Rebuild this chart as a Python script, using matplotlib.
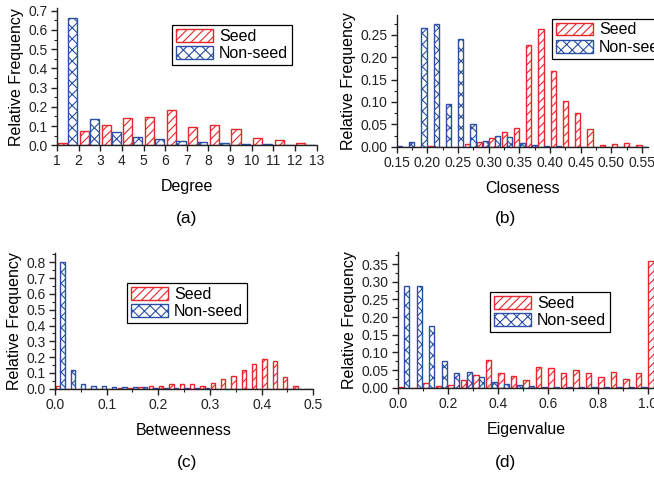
#!/usr/bin/env python3
import numpy as np
import matplotlib
matplotlib.use("Agg")
import matplotlib.pyplot as plt
from matplotlib.ticker import MultipleLocator, FormatStrFormatter

plt.rcParams["font.family"] = ["Liberation Sans", "DejaVu Sans"]
plt.rcParams["hatch.linewidth"] = 0.8

SEED_COLOR = "#e8262b"
NONSEED_COLOR = "#2b4fa6"

# (a) Degree: bins [k, k+1], k = 1..12
degree_bins = list(range(1, 13))
degree_seed = [0.014, 0.073, 0.104, 0.140, 0.146, 0.185, 0.094, 0.106, 0.083, 0.040, 0.026, 0.010]
degree_nonseed = [0.660, 0.135, 0.068, 0.045, 0.031, 0.021, 0.016, 0.012, 0.008, 0.005, 0.003, 0.002]

# (b) Closeness: bins of width 0.02, left edges 0.14 .. 0.54
closeness_bins = [0.14, 0.16, 0.18, 0.20, 0.22, 0.24, 0.26, 0.28, 0.30, 0.32, 0.34,
                  0.36, 0.38, 0.40, 0.42, 0.44, 0.46, 0.48, 0.50, 0.52, 0.54]
closeness_seed = [0.0, 0.0, 0.0, 0.002, 0.0, 0.0, 0.006, 0.010, 0.019, 0.032, 0.041,
                  0.228, 0.263, 0.170, 0.103, 0.075, 0.039, 0.003, 0.006, 0.0075, 0.003]
closeness_nonseed = [0.001, 0.010, 0.264, 0.273, 0.095, 0.240, 0.051, 0.012, 0.023, 0.021, 0.0075,
                     0.003, 0.001, 0.0005, 0.0, 0.0, 0.0, 0.0, 0.0, 0.0, 0.0]

# (c) Betweenness: bins of width 0.02, left edges 0.00 .. 0.48
betweenness_bins = [round(0.02 * i, 2) for i in range(25)]
betweenness_seed = [0.015, 0.0, 0.0, 0.0, 0.0, 0.0, 0.004, 0.006, 0.008, 0.019, 0.015, 0.027, 0.027,
                    0.027, 0.019, 0.036, 0.061, 0.080, 0.118, 0.154, 0.188, 0.175, 0.072, 0.015, 0.0]
betweenness_nonseed = [0.800, 0.118, 0.027, 0.017, 0.015, 0.010, 0.010, 0.008, 0.008, 0.006, 0.005, 0.004,
                       0.003, 0.002, 0.002, 0.001, 0.001, 0.001, 0.0, 0.0, 0.0, 0.0, 0.0, 0.0, 0.0]

# (d) Eigenvalue: bins of width 0.05, left edges 0.00 .. 1.00
eigen_bins = [round(0.05 * i, 2) for i in range(21)]
eigen_seed = [0.002, 0.0, 0.012, 0.005, 0.007, 0.022, 0.036, 0.078, 0.041, 0.033, 0.022,
              0.059, 0.056, 0.042, 0.050, 0.041, 0.030, 0.044, 0.025, 0.041, 0.358]
eigen_nonseed = [0.287, 0.287, 0.174, 0.0755, 0.041, 0.045, 0.029, 0.017, 0.011, 0.0066, 0.005,
                 0.003, 0.002, 0.001, 0.001, 0.001, 0.001, 0.001, 0.001, 0.001, 0.005]

W, H = 654, 479


def axes_at(fig, x0, x1, ytop, ybot):
    """Place axes using pixel coords measured from top-left."""
    return fig.add_axes([x0 / W, 1 - ybot / H, (x1 - x0) / W, (ybot - ytop) / H])


def style_axes(ax):
    for s in ("top", "right"):
        ax.spines[s].set_visible(False)
    for s in ("left", "bottom"):
        ax.spines[s].set_linewidth(1.0)
        ax.spines[s].set_color("#222222")
    ax.tick_params(which="major", direction="out", length=4.5, width=1.0, labelsize=10,
                   colors="#222222", pad=2)
    ax.tick_params(which="minor", direction="out", length=2.5, width=0.8, colors="#222222")


def draw_pairs(ax, lefts, width, seed, nonseed):
    lefts = np.asarray(lefts, dtype=float)
    bw = 0.42 * width
    ax.bar(lefts + 0.27 * width, seed, bw, facecolor="white", edgecolor=SEED_COLOR,
           hatch="////", linewidth=1.0, label="Seed")
    ax.bar(lefts + 0.73 * width, nonseed, bw, facecolor="white", edgecolor=NONSEED_COLOR,
           hatch="xxx", linewidth=1.0, label="Non-seed")


def add_legend(ax, x0, y0):
    ax.legend(loc="upper left", bbox_to_anchor=(x0 / W, 1 - y0 / H),
              bbox_transform=ax.figure.transFigure, fontsize=11.5, frameon=True,
              fancybox=False, edgecolor="black", framealpha=1, borderpad=0.25,
              handlelength=2.3, handleheight=0.85, handletextpad=0.4, labelspacing=0.15,
              borderaxespad=0)
    ax.get_legend().get_frame().set_linewidth(0.9)


fig = plt.figure(figsize=(W / 100, H / 100), dpi=100)

# (a)
ax = axes_at(fig, 57, 316.7, 8.3, 145.3)
draw_pairs(ax, degree_bins, 1.0, degree_seed, degree_nonseed)
ax.set_xlim(1, 13)
ax.set_ylim(0, 0.7125)
ax.xaxis.set_major_locator(MultipleLocator(1))
ax.yaxis.set_major_locator(MultipleLocator(0.1))
ax.yaxis.set_minor_locator(MultipleLocator(0.05))
ax.yaxis.set_major_formatter(FormatStrFormatter("%.1f"))
style_axes(ax)
ax.set_xlabel("Degree", fontsize=11.5, labelpad=8)
ax.set_ylabel("Relative Frequency", fontsize=11.5, labelpad=3)
add_legend(ax, 172, 25)
fig.text(187 / W, 1 - 218 / H, "(a)", fontsize=12.5, ha="center", va="center")

# (b)
ax = axes_at(fig, 396.7, 648, 15, 146.7)
draw_pairs(ax, closeness_bins, 0.02, closeness_seed, closeness_nonseed)
ax.set_xlim(0.15, 0.56)
ax.set_ylim(0, 0.294)
ax.xaxis.set_major_locator(MultipleLocator(0.05))
ax.xaxis.set_minor_locator(MultipleLocator(0.025))
ax.yaxis.set_major_locator(MultipleLocator(0.05))
ax.yaxis.set_minor_locator(MultipleLocator(0.025))
ax.xaxis.set_major_formatter(FormatStrFormatter("%.2f"))
ax.yaxis.set_major_formatter(FormatStrFormatter("%.2f"))
style_axes(ax)
ax.set_xlabel("Closeness", fontsize=11.5, labelpad=8)
ax.set_ylabel("Relative Frequency", fontsize=11.5, labelpad=3)
add_legend(ax, 552, 18.5)
fig.text(505 / W, 1 - 218 / H, "(b)", fontsize=12.5, ha="center", va="center")

# (c)
ax = axes_at(fig, 55, 313.3, 253.3, 388.7)
draw_pairs(ax, betweenness_bins, 0.02, betweenness_seed, betweenness_nonseed)
ax.set_xlim(0, 0.5)
ax.set_ylim(0, 0.857)
ax.xaxis.set_major_locator(MultipleLocator(0.1))
ax.xaxis.set_minor_locator(MultipleLocator(0.05))
ax.yaxis.set_major_locator(MultipleLocator(0.1))
ax.yaxis.set_minor_locator(MultipleLocator(0.05))
ax.xaxis.set_major_formatter(FormatStrFormatter("%.1f"))
ax.yaxis.set_major_formatter(FormatStrFormatter("%.1f"))
style_axes(ax)
ax.set_xlabel("Betweenness", fontsize=11.5, labelpad=8)
ax.set_ylabel("Relative Frequency", fontsize=11.5, labelpad=3)
add_legend(ax, 127, 283)
fig.text(187 / W, 1 - 462 / H, "(c)", fontsize=12.5, ha="center", va="center")

# (d)
ax = axes_at(fig, 397.7, 654, 251.7, 387.7)
draw_pairs(ax, eigen_bins, 0.05, eigen_seed, eigen_nonseed)
ax.set_xlim(0, 1.025)
ax.set_ylim(0, 0.385)
ax.xaxis.set_major_locator(MultipleLocator(0.2))
ax.xaxis.set_minor_locator(MultipleLocator(0.1))
ax.yaxis.set_major_locator(MultipleLocator(0.05))
ax.yaxis.set_minor_locator(MultipleLocator(0.025))
ax.xaxis.set_major_formatter(FormatStrFormatter("%.1f"))
ax.yaxis.set_major_formatter(FormatStrFormatter("%.2f"))
style_axes(ax)
ax.set_xlabel("Eigenvalue", fontsize=11.5, labelpad=8)
ax.set_ylabel("Relative Frequency", fontsize=11.5, labelpad=3)
add_legend(ax, 490, 292)
fig.text(505 / W, 1 - 462 / H, "(d)", fontsize=12.5, ha="center", va="center")

fig.savefig("out.png", dpi=100)
